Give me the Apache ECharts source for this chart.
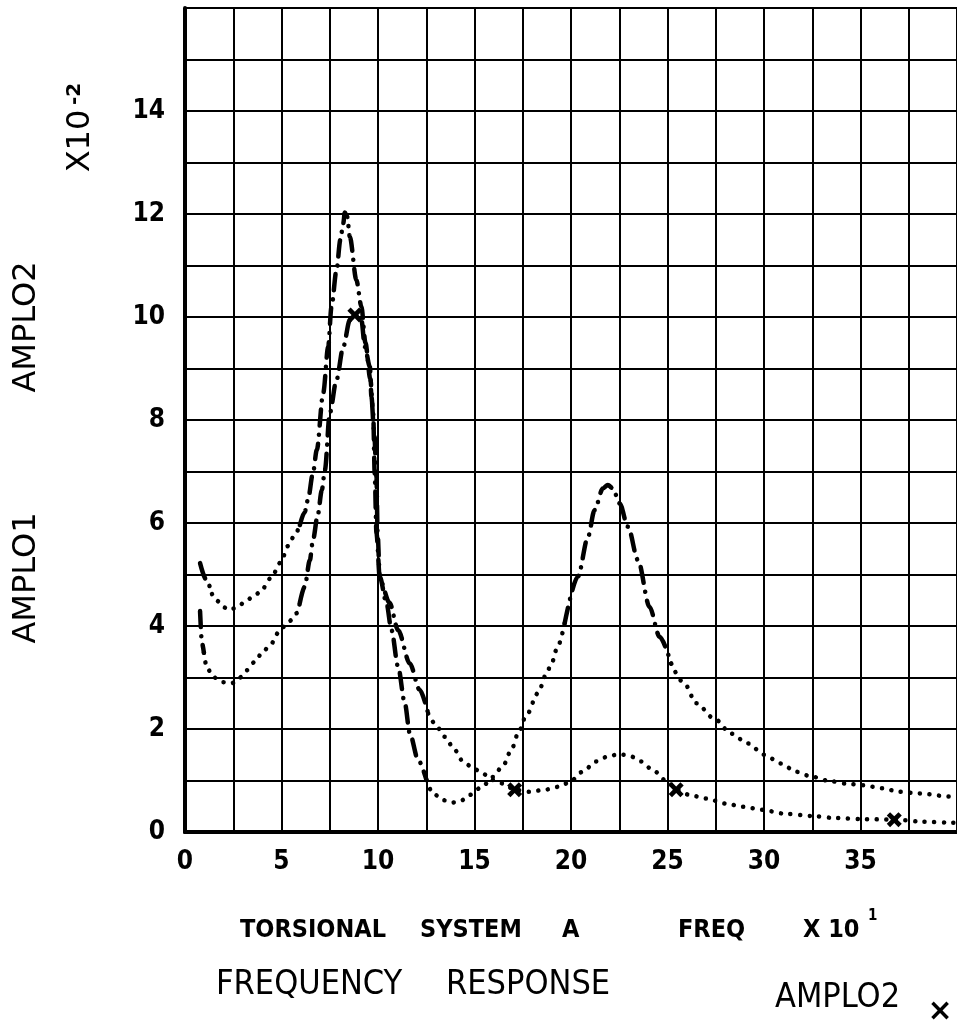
<!DOCTYPE html>
<html>
<head>
<meta charset="utf-8">
<script src="https://cdn.jsdelivr.net/npm/echarts@6/dist/echarts.min.js"></script>
<style>
html,body{margin:0;padding:0;background:#fff;}
#chart{width:957px;height:1025px;}
</style>
</head>
<body>
<div id="chart"></div>
<script>
// ---- data ----
const xTickLabels = [0, 5, 10, 15, 20, 25, 30, 35];
const yTickLabels = [0, 2, 4, 6, 8, 10, 12, 14];

const amplo1 = [
  [0.78,5.22],[1.1,4.9],[1.4,4.62],[1.66,4.49],[1.97,4.37],[2.28,4.31],[2.74,4.37],
  [3.1,4.47],[3.5,4.56],[3.9,4.66],[4.45,4.93],[4.97,5.24],[5.33,5.55],[5.69,5.77],
  [5.95,5.96],[6.2,6.21],[6.37,6.45],[6.63,6.97],[6.83,7.42],[7.16,8.52],[7.42,9.42],
  [7.59,10.2],[7.85,10.91],[8.05,11.5],[8.2,11.82],[8.28,12.03],[8.4,11.95],[8.54,11.56],
  [8.88,10.72],[9.14,10.2],[9.35,9.5],[9.6,8.8],[9.8,7.8],[9.92,6.9],[9.98,5.8],
  [10.09,4.96],[10.44,4.44],[10.7,3.92],[11.04,3.21],[11.39,2.5],[11.65,1.91],[12.08,1.4],
  [12.51,1.01],[12.85,0.75],[13.37,0.62],[13.8,0.57],[14.23,0.59],[14.75,0.72],[15.4,0.88],
  [15.95,1.07],[16.5,1.3],[16.9,1.59],[17.3,1.95],[17.65,2.24],[18.3,2.7],[18.7,3.05],
  [19.0,3.28],[19.27,3.56],[19.67,4.05],[20.36,4.96],[20.88,5.73],[21.22,6.25],[21.65,6.67],
  [21.91,6.74],[22.17,6.67],[22.52,6.38],[22.95,5.93],[23.47,5.28],[24.07,4.37],[24.59,3.79],
  [25.19,3.27],[25.88,2.88],[26.49,2.5],[27.43,2.2],[28.3,1.91],[29.16,1.72],[30.02,1.5],
  [30.88,1.33],[31.66,1.17],[32.52,1.07],[33.39,0.99],[34.25,0.94],[35.11,0.91],[36.14,0.85],
  [37.0,0.78],[38.04,0.75],[39.6,0.69],[40.0,0.68]
];

const amplo2 = [
  [0.78,4.29],[0.88,3.67],[0.98,3.48],[1.14,3.18],[1.5,3.0],[1.97,2.91],[2.43,2.89],
  [2.85,3.0],[3.2,3.14],[3.6,3.3],[4.04,3.5],[4.45,3.65],[4.86,3.88],[5.23,4.02],
  [5.54,4.12],[5.8,4.25],[5.95,4.45],[6.2,4.76],[6.47,5.28],[6.63,5.67],[6.88,6.16],
  [7.09,6.64],[7.25,7.03],[7.5,8.13],[7.85,8.78],[8.2,9.42],[8.54,9.94],[8.8,10.04],
  [9.14,9.94],[9.32,9.42],[9.58,9.03],[9.66,8.45],[9.75,8.13],[9.83,6.96],[9.92,5.8],
  [10.1,4.9],[10.6,4.45],[11.04,3.92],[11.65,3.27],[12.16,2.76],[12.6,2.3],[12.94,2.11],
  [13.46,1.85],[13.98,1.59],[14.4,1.37],[14.84,1.27],[15.4,1.14],[15.95,1.01],[16.5,0.94],
  [17.08,0.82],[17.86,0.78],[18.63,0.82],[19.4,0.88],[19.93,0.97],[20.6,1.17],[21.3,1.37],
  [21.99,1.48],[22.52,1.51],[23.03,1.48],[23.64,1.37],[24.24,1.2],[25.02,0.97],[25.45,0.82],
  [26.14,0.72],[27.0,0.65],[28.04,0.55],[28.9,0.49],[29.94,0.43],[30.97,0.36],[32.52,0.31],
  [33.73,0.27],[35.11,0.25],[36.75,0.24],[38.22,0.2],[39.77,0.18],[40.0,0.18]
];

const amplo2Markers = [[8.8,10.04],[17.08,0.82],[25.45,0.82],[36.75,0.24]];

// ---- style: x-ranges where the plotter line appears dash-dot instead of dotted ----
const amplo1Steep = [[0.78,1.4],[5.95,12.51],[19.84,25.19]];
const amplo2Steep = [[0.78,0.98],[5.9,12.6]];

const DOT = [0.1, 9.5];
const DASHDOT = [16, 9, 0.1, 9];

function runs(points, steep) {
  const isSteep = (a, b) => steep.some(([lo, hi]) => (a + b) / 2 >= lo && (a + b) / 2 <= hi);
  const out = [];
  let cur = null;
  for (let i = 0; i < points.length - 1; i++) {
    const t = isSteep(points[i][0], points[i + 1][0]) ? 'dd' : 'dot';
    if (!cur || cur.t !== t) { cur = { t: t, pts: [points[i]] }; out.push(cur); }
    cur.pts.push(points[i + 1]);
  }
  return out;
}

function lineSeries(name, points, steep) {
  return runs(points, steep).map(r => ({
    name: name,
    type: 'line',
    data: r.pts,
    showSymbol: false,
    smooth: 0.3,
    smoothMonotone: 'x',
    silent: true,
    lineStyle: { color: '#000', width: 4.5, type: r.t === 'dd' ? DASHDOT : DOT, cap: 'round', join: 'round' },
    z: 5
  }));
}

const XPATH = 'path://M0,2.2 L2.2,0 L5,2.8 L7.8,0 L10,2.2 L7.2,5 L10,7.8 L7.8,10 L5,7.2 L2.2,10 L0,7.8 L2.8,5 Z';
const LABEL_FONT = '"DejaVu Sans Condensed", "DejaVu Sans", sans-serif';
const TEXT_FONT = '"DejaVu Sans", sans-serif';

const series = []
  .concat(lineSeries('AMPLO1', amplo1, amplo1Steep))
  .concat(lineSeries('AMPLO2', amplo2, amplo2Steep))
  .concat([{
    name: 'AMPLO2 marks',
    type: 'scatter',
    data: amplo2Markers,
    symbol: XPATH,
    symbolSize: 15,
    itemStyle: { color: '#000', opacity: 1 },
    silent: true,
    z: 6
  }]);

function txt(x, y, text, font, extra) {
  return Object.assign({ type: 'text', x: x, y: y,
    style: { text: text, align: 'left', verticalAlign: 'middle', font: font, fill: '#000' } }, extra || {});
}

const chart = echarts.init(document.getElementById('chart'), null, { renderer: 'canvas' });
chart.setOption({
  animation: false,
  backgroundColor: '#fff',
  grid: { left: 185, right: 0, top: 8, bottom: 193, containLabel: false },
  xAxis: [{
    type: 'value', min: 0, max: 40, interval: 2.5,
    axisLine: { show: true, onZero: false, lineStyle: { color: '#000', width: 4 } },
    axisTick: { show: false },
    splitLine: { show: true, lineStyle: { color: '#000', width: 2 } },
    axisLabel: {
      margin: 17, color: '#000', fontSize: 26, fontWeight: 'bold', fontFamily: LABEL_FONT,
      showMaxLabel: false,
      formatter: v => (xTickLabels.indexOf(v) >= 0 ? String(v) : '')
    }
  }, {
    type: 'value', min: 0, max: 40, position: 'top',
    axisLine: { show: true, lineStyle: { color: '#000', width: 4 } },
    axisTick: { show: false }, axisLabel: { show: false }, splitLine: { show: false }
  }],
  yAxis: {
    type: 'value', min: 0, max: 16, interval: 1,
    axisLine: { show: true, onZero: false, lineStyle: { color: '#000', width: 4 } },
    axisTick: { show: false },
    splitLine: { show: true, lineStyle: { color: '#000', width: 2 } },
    axisLabel: {
      margin: 20, color: '#000', fontSize: 26, fontWeight: 'bold', fontFamily: LABEL_FONT,
      formatter: v => (yTickLabels.indexOf(v) >= 0 ? String(v) : '')
    }
  },
  graphic: [
    { type: 'text', x: 27, y: 327, rotation: Math.PI / 2,
      style: { text: 'AMPLO2', align: 'center', verticalAlign: 'middle', font: '32px ' + TEXT_FONT, fill: '#000' } },
    { type: 'text', x: 27, y: 578, rotation: Math.PI / 2,
      style: { text: 'AMPLO1', align: 'center', verticalAlign: 'middle', font: '32px ' + TEXT_FONT, fill: '#000' } },
    { type: 'text', x: 81, y: 141, rotation: Math.PI / 2,
      style: { text: 'X10', align: 'center', verticalAlign: 'middle', font: '32px ' + TEXT_FONT, fill: '#000' } },
    { type: 'text', x: 75, y: 94, rotation: Math.PI / 2,
      style: { text: '-2', align: 'center', verticalAlign: 'middle', font: 'bold 20px ' + TEXT_FONT, fill: '#000' } },
    txt(240, 930, 'TORSIONAL', 'bold 25px ' + LABEL_FONT),
    txt(420, 930, 'SYSTEM', 'bold 25px ' + LABEL_FONT),
    txt(562, 930, 'A', 'bold 25px ' + LABEL_FONT),
    txt(678, 930, 'FREQ', 'bold 25px ' + LABEL_FONT),
    txt(803, 930, 'X 10', 'bold 25px ' + LABEL_FONT),
    txt(868, 916, '1', 'bold 15px ' + LABEL_FONT),
    txt(216, 985, 'FREQUENCY', '34px ' + LABEL_FONT),
    txt(446, 985, 'RESPONSE', '34px ' + LABEL_FONT),
    txt(775, 998, 'AMPLO2', '34px ' + LABEL_FONT),
    { type: 'text', x: 940, y: 1012,
      style: { text: '×', align: 'center', verticalAlign: 'middle', font: 'bold 30px ' + TEXT_FONT, fill: '#000' } }
  ],
  series: series
});
</script>
</body>
</html>
